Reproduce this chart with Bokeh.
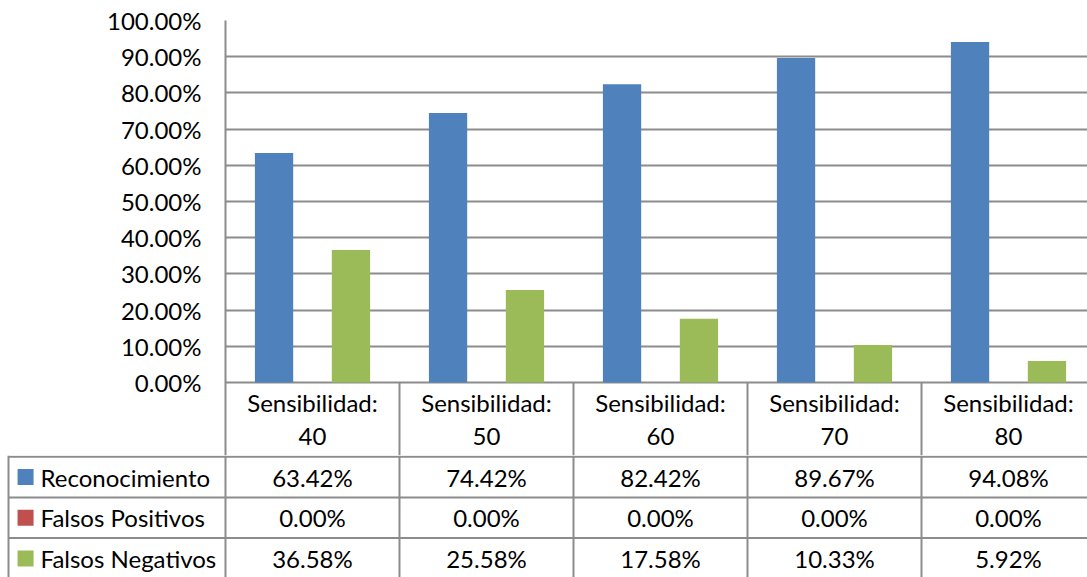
from bokeh.plotting import figure
from bokeh.models import Range1d, FixedTicker, ColumnDataSource
from bokeh.embed import file_html
from bokeh.resources import INLINE
from bokeh.core.properties import value

# ---- data ----
categories = ["Sensibilidad:\n40", "Sensibilidad:\n50", "Sensibilidad:\n60",
              "Sensibilidad:\n70", "Sensibilidad:\n80"]
series_names = ["Reconocimiento", "Falsos Positivos", "Falsos Negativos"]
reconocimiento = [0.6342, 0.7442, 0.8242, 0.8967, 0.9408]
falsos_positivos = [0.0, 0.0, 0.0, 0.0, 0.0]
falsos_negativos = [0.3658, 0.2558, 0.1758, 0.1033, 0.0592]
series_colors = ["#4F81BD", "#C0504D", "#9BBB59"]
y_ticks = [0.0, 0.1, 0.2, 0.3, 0.4, 0.5, 0.6, 0.7, 0.8, 0.9, 1.0]
y_tick_labels = {t: f"{t*100:.2f}%" for t in y_ticks}

FONT = "Lato"
FS = "24px"
GRID = "#8C8C8C"

series = [reconocimiento, falsos_positivos, falsos_negativos]
n = len(categories)
centers = [i + 0.5 for i in range(n)]
offsets = [-0.221, 0.0, 0.221]
bw = 0.22

# ---- chart figure (with header row of table) ----
p = figure(width=1087, height=455, output_backend="svg", toolbar_location=None,
           x_range=Range1d(0, 4.954), y_range=Range1d(-0.2017, 1.0),
           x_axis_location=None, min_border_left=225, min_border_top=20,
           min_border_bottom=0, min_border_right=0)
p.outline_line_color = None
p.xgrid.visible = False
p.ygrid.ticker = FixedTicker(ticks=y_ticks)
p.ygrid.grid_line_color = GRID
p.ygrid.grid_line_width = 2
p.yaxis.ticker = FixedTicker(ticks=y_ticks)
p.yaxis.major_label_overrides = y_tick_labels
p.yaxis.major_label_text_font = FONT
p.yaxis.major_label_text_font_size = FS
p.yaxis.major_label_text_color = "black"
p.yaxis.major_tick_out = 0
p.yaxis.major_tick_in = 0
p.yaxis.minor_tick_out = 0
p.yaxis.minor_tick_in = 0
p.yaxis.axis_line_color = GRID
p.yaxis.axis_line_width = 2
p.yaxis.major_label_standoff = 24

for vals, off, col in zip(series, offsets, series_colors):
    src = ColumnDataSource(dict(x=[c + off for c in centers], top=vals))
    p.vbar(x="x", top="top", bottom=0, width=bw, source=src,
           fill_color=col, line_color=None)

# header row separators and labels
p.segment(x0=[float(i) for i in range(1, n + 1)], y0=[0.0] * n,
          x1=[float(i) for i in range(1, n + 1)], y1=[-0.21] * n,
          line_color=GRID, line_width=2)
p.text(x=centers, y=[-0.1008] * n, text=categories, text_font=value(FONT),
       text_font_size=FS, text_align="center", text_baseline="middle",
       text_line_height=1.12, text_color="black")

# ---- data table rows ----
t = figure(width=1087, height=122, output_backend="svg", toolbar_location=None,
           x_range=Range1d(-1.293, 4.954), y_range=Range1d(-2.97, 0.03),
           x_axis_location=None, y_axis_location=None,
           min_border=0)
t.outline_line_color = None
t.grid.visible = False

# horizontal row borders
t.segment(x0=[-1.247] * 3, y0=[0.0, -1.0, -2.0], x1=[5.0] * 3, y1=[0.0, -1.0, -2.0],
          line_color=GRID, line_width=2)
# vertical borders
vx = [-1.247] + [float(i) for i in range(0, n + 1)]
t.segment(x0=vx, y0=[0.03] * len(vx), x1=vx, y1=[-3.0] * len(vx),
          line_color=GRID, line_width=2)

rows_y = [-0.5 - k for k in range(len(series_names))]
t.rect(x=[-1.149] * 3, y=rows_y, width=16, height=16, width_units="screen",
       height_units="screen", fill_color=series_colors, line_color=None)
t.text(x=[-1.063] * 3, y=rows_y, text=series_names, text_font=value(FONT),
       text_font_size=FS, text_align="left", text_baseline="middle",
       text_color="black")

for vals, ry in zip(series, rows_y):
    t.text(x=centers, y=[ry] * n, text=[f"{v*100:.2f}%" for v in vals],
           text_font=value(FONT), text_font_size=FS, text_align="center",
           text_baseline="middle", text_color="black")

open("out.html", "w").write(file_html([p, t], INLINE))
